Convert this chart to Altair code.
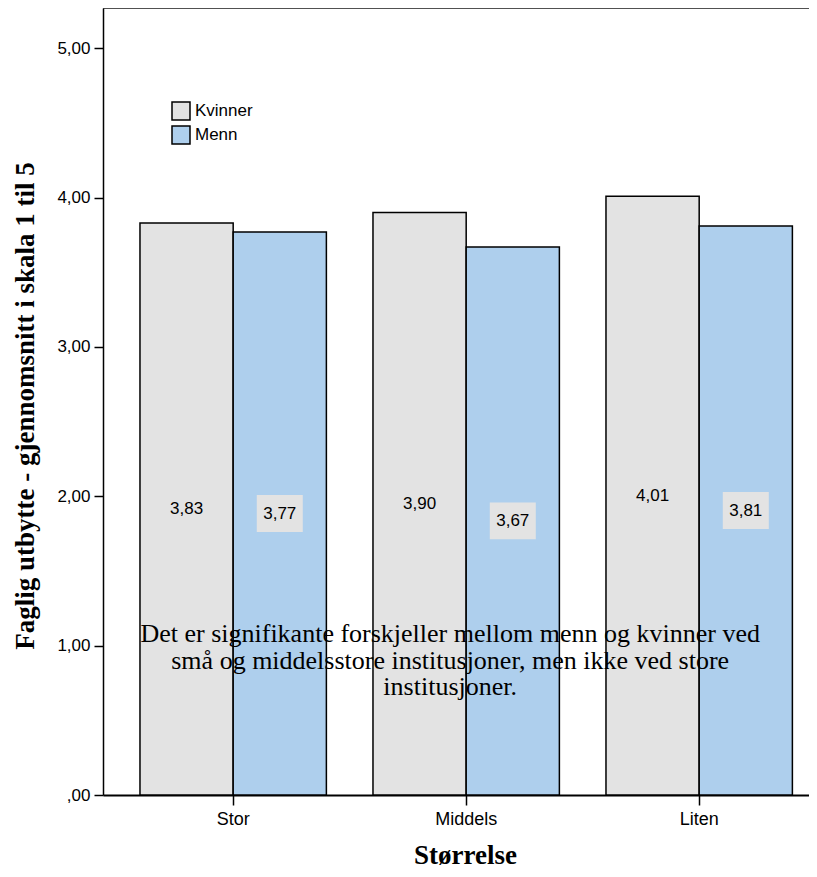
import altair as alt
import pandas as pd

categories = ["Stor", "Middels", "Liten"]
groups = ["Kvinner", "Menn"]
kvinner = [3.83, 3.90, 4.01]
menn = [3.77, 3.67, 3.81]
note = ["Det er signifikante forskjeller mellom menn og kvinner ved",
        "små og middelsstore institusjoner, men ikke ved store",
        "institusjoner."]

rows = []
for c, k, m in zip(categories, kvinner, menn):
    rows.append({"Størrelse": c, "Kjønn": "Kvinner", "value": k})
    rows.append({"Størrelse": c, "Kjønn": "Menn", "value": m})
df = pd.DataFrame(rows)
df["label"] = df["value"].map(lambda v: f"{v:.2f}".replace(".", ","))
df["mid"] = df["value"] / 2

W = 706
H = 787
YMAX = 5.27

xscale = alt.Scale(domain=categories, paddingInner=0.2, paddingOuter=0.115, align=0.69)
yscale = alt.Scale(domain=[0, YMAX], nice=False, zero=True)
color = alt.Scale(domain=groups, range=["#e3e3e3", "#aecfed"])

base = alt.Chart(df)

bars = base.mark_bar(stroke="black", strokeWidth=1.5).encode(
    x=alt.X("Størrelse:N", scale=xscale, sort=categories,
            axis=alt.Axis(title="Størrelse", labelAngle=0, labelFontSize=18,
                          labelFont="Liberation Sans", labelColor="black",
                          tickSize=10, tickColor="black", tickWidth=1.5,
                          domainColor="black", domainWidth=2, labelPadding=5,
                          titleFont="Liberation Serif", titleFontSize=27,
                          titleFontWeight="bold", titleColor="black", titlePadding=14,
                          titleX=W / 2 + 9)),
    xOffset=alt.XOffset("Kjønn:N", sort=groups, scale=alt.Scale(paddingInner=0, paddingOuter=0)),
    y=alt.Y("value:Q", scale=yscale,
            axis=alt.Axis(title="Faglig utbytte - gjennomsnitt i skala 1 til 5",
                          values=[0, 1, 2, 3, 4, 5], grid=False,
                          labelExpr="datum.value == 0 ? ',00' : replace(format(datum.value, '.2f'), '.', ',')",
                          labelFontSize=17, labelFont="Liberation Sans", labelColor="black",
                          tickSize=9, tickColor="black", tickWidth=1.5,
                          domainColor="black", domainWidth=1.5, labelPadding=4,
                          titleFont="Liberation Serif", titleFontSize=27,
                          titleFontWeight="bold", titleColor="black",
                          titleX=-78, titleY=H / 2 + 4, titleAngle=-90,
                          titleBaseline="middle", titleAlign="center")),
    color=alt.Color("Kjønn:N", scale=color, sort=groups,
                    legend=alt.Legend(title=None, orient="none", legendX=68, legendY=93,
                                      symbolType="square", symbolSize=324,
                                      symbolStrokeColor="black", symbolStrokeWidth=1.5,
                                      labelFontSize=17, labelFont="Liberation Sans",
                                      labelColor="black", rowPadding=0, padding=0,
                                      labelOffset=4)),
)

boxes = base.mark_point(
    shape="M-1,-0.8L1,-0.8L1,0.8L-1,0.8Z", filled=True, size=2116,
    color="#e3e3e3", opacity=1, strokeWidth=0,
).encode(
    x=alt.X("Størrelse:N", scale=xscale, sort=categories),
    xOffset=alt.XOffset("Kjønn:N", sort=groups),
    y=alt.Y("mid:Q", scale=yscale),
)

labels = base.mark_text(fontSize=17, font="Liberation Sans", color="black",
                        baseline="middle", align="center").encode(
    x=alt.X("Størrelse:N", scale=xscale, sort=categories),
    xOffset=alt.XOffset("Kjønn:N", sort=groups),
    y=alt.Y("mid:Q", scale=yscale),
    text="label:N",
)

note_df = pd.DataFrame({"cat": ["Middels"], "yv": [1.075], "text": [note]})
note_text = alt.Chart(note_df).mark_text(
    font="Liberation Serif", fontSize=26, color="black", align="center",
    baseline="middle", lineHeight=26.5, dx=-16,
).encode(
    x=alt.X("cat:N", scale=xscale, sort=categories),
    y=alt.Y("yv:Q", scale=yscale),
    text="text",
)

topline = alt.Chart(pd.DataFrame({"a": [0]})).mark_rule(color="#222222", strokeWidth=1.5).encode(
    x=alt.value(0), x2=alt.value(W), y=alt.value(0)
)

chart = alt.layer(bars, boxes, labels, note_text, topline).properties(
    width=W, height=H,
    autosize=alt.AutoSizeParams(type="none"),
    padding={"left": 95, "top": 0, "right": 0, "bottom": 74},
).configure_view(stroke=None).configure(background="white")

chart.save("out.html", embed_options={"renderer": "svg", "actions": False})
